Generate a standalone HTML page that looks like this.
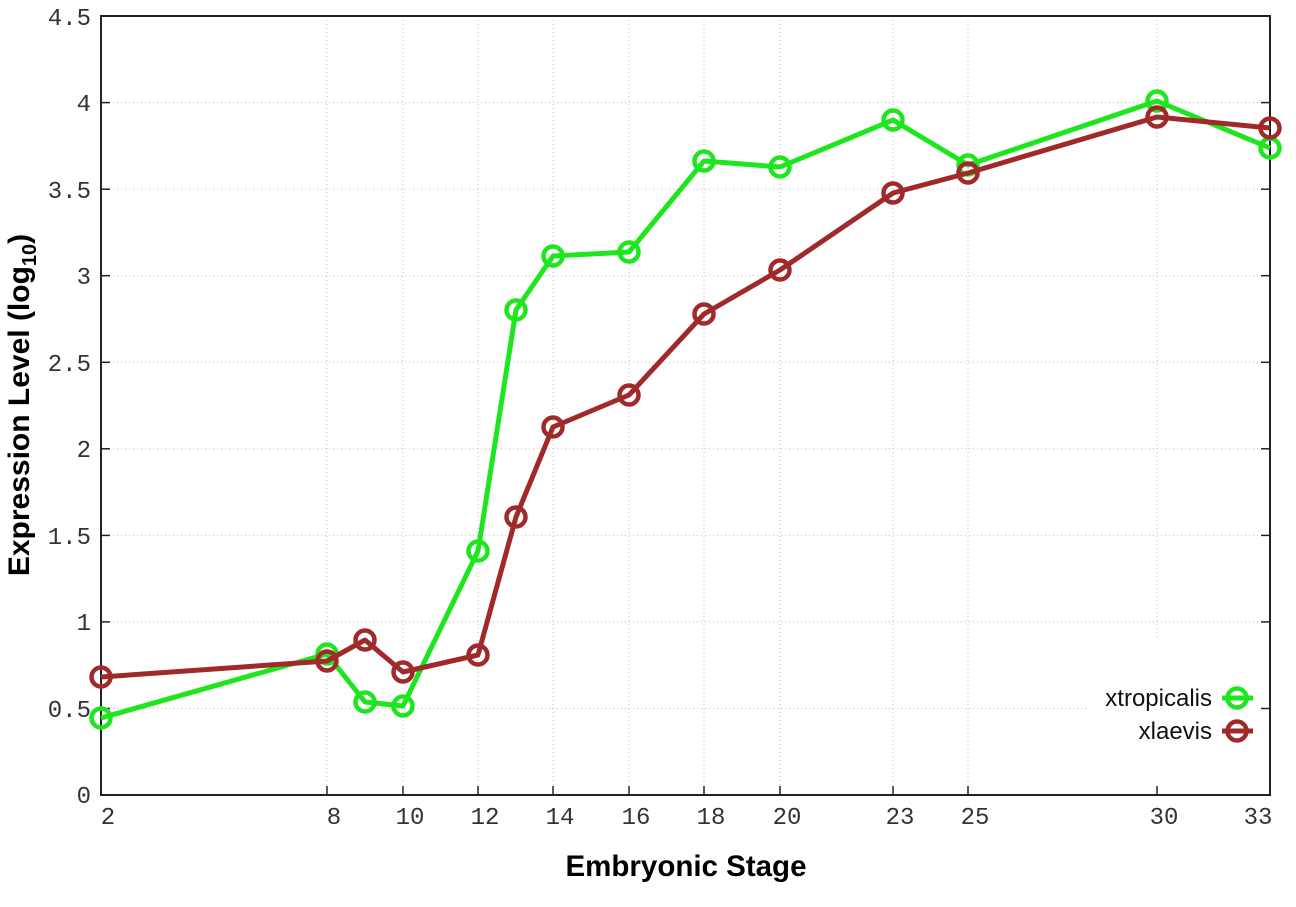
<!DOCTYPE html>
<html><head><meta charset="utf-8"><style>body{margin:0;background:#fff}svg{display:block}</style></head>
<body>
<svg width="1296" height="907" xmlns="http://www.w3.org/2000/svg">
<g stroke="#bbb" stroke-width="1" stroke-dasharray="1,3">
<line x1="101" y1="102.6" x2="1270" y2="102.6"/><line x1="101" y1="189.2" x2="1270" y2="189.2"/>
<line x1="101" y1="275.7" x2="1270" y2="275.7"/><line x1="101" y1="362.3" x2="1270" y2="362.3"/>
<line x1="101" y1="448.8" x2="1270" y2="448.8"/><line x1="101" y1="535.4" x2="1270" y2="535.4"/>
<line x1="101" y1="621.9" x2="1270" y2="621.9"/><line x1="101" y1="708.5" x2="1088" y2="708.5"/>
<line x1="327" y1="16" x2="327" y2="795"/><line x1="403" y1="16" x2="403" y2="795"/>
<line x1="478" y1="16" x2="478" y2="795"/><line x1="553" y1="16" x2="553" y2="795"/>
<line x1="629" y1="16" x2="629" y2="795"/><line x1="704" y1="16" x2="704" y2="795"/>
<line x1="780" y1="16" x2="780" y2="795"/><line x1="893" y1="16" x2="893" y2="795"/>
<line x1="968" y1="16" x2="968" y2="795"/><line x1="1157" y1="16" x2="1157" y2="640"/>
</g>
<g stroke="#222" stroke-width="1.5">
<line x1="101" y1="102.6" x2="110" y2="102.6"/><line x1="101" y1="189.2" x2="110" y2="189.2"/>
<line x1="101" y1="275.7" x2="110" y2="275.7"/><line x1="101" y1="362.3" x2="110" y2="362.3"/>
<line x1="101" y1="448.8" x2="110" y2="448.8"/><line x1="101" y1="535.4" x2="110" y2="535.4"/>
<line x1="101" y1="621.9" x2="110" y2="621.9"/><line x1="101" y1="708.5" x2="110" y2="708.5"/>
<line x1="1261" y1="102.6" x2="1270" y2="102.6"/><line x1="1261" y1="189.2" x2="1270" y2="189.2"/>
<line x1="1261" y1="275.7" x2="1270" y2="275.7"/><line x1="1261" y1="362.3" x2="1270" y2="362.3"/>
<line x1="1261" y1="448.8" x2="1270" y2="448.8"/><line x1="1261" y1="535.4" x2="1270" y2="535.4"/>
<line x1="1261" y1="621.9" x2="1270" y2="621.9"/><line x1="1261" y1="708.5" x2="1270" y2="708.5"/>
<line x1="327" y1="786" x2="327" y2="795"/><line x1="403" y1="786" x2="403" y2="795"/>
<line x1="478" y1="786" x2="478" y2="795"/><line x1="553" y1="786" x2="553" y2="795"/>
<line x1="629" y1="786" x2="629" y2="795"/><line x1="704" y1="786" x2="704" y2="795"/>
<line x1="780" y1="786" x2="780" y2="795"/><line x1="893" y1="786" x2="893" y2="795"/>
<line x1="968" y1="786" x2="968" y2="795"/><line x1="1157" y1="786" x2="1157" y2="795"/>
</g>
<rect x="101" y="16" width="1169" height="779" fill="none" stroke="#222" stroke-width="2"/>
<g font-family="Liberation Mono, monospace" font-size="24" fill="#333" text-anchor="end">
<text x="91" y="25">4.5</text><text x="91" y="111">4</text><text x="91" y="198">3.5</text>
<text x="91" y="284">3</text><text x="91" y="371">2.5</text><text x="91" y="457">2</text>
<text x="91" y="544">1.5</text><text x="91" y="630">1</text><text x="91" y="717">0.5</text>
<text x="91" y="803">0</text>
</g>
<g font-family="Liberation Mono, monospace" font-size="24" fill="#333" text-anchor="middle">
<text x="108" y="824">2</text><text x="334" y="824">8</text><text x="410" y="824">10</text>
<text x="485" y="824">12</text><text x="560" y="824">14</text><text x="636" y="824">16</text>
<text x="711" y="824">18</text><text x="787" y="824">20</text><text x="900" y="824">23</text>
<text x="975" y="824">25</text><text x="1164" y="824">30</text><text x="1258" y="824">33</text>
</g>
<text x="686" y="876" font-family="Liberation Sans, sans-serif" font-weight="bold" font-size="29.5" text-anchor="middle">Embryonic Stage</text>
<text transform="translate(29,405) rotate(-90)" font-family="Liberation Sans, sans-serif" font-weight="bold" font-size="30" text-anchor="middle">Expression Level (log<tspan font-size="20" dy="7">10</tspan><tspan dy="-7">)</tspan></text>
<g fill="none" stroke-width="5" stroke-linejoin="round">
<polyline stroke="#1ee61e" points="101,718 327,654 365,702 403,706 478,551 516,310 553,256 629,252 704,161 780,167 893,120 968,165 1157,101 1270,148"/>
<g stroke="#1ee61e" stroke-width="4.5">
<circle cx="101" cy="718" r="9.5"/><circle cx="327" cy="654" r="9.5"/><circle cx="365" cy="702" r="9.5"/><circle cx="403" cy="706" r="9.5"/><circle cx="478" cy="551" r="9.5"/><circle cx="516" cy="310" r="9.5"/><circle cx="553" cy="256" r="9.5"/><circle cx="629" cy="252" r="9.5"/><circle cx="704" cy="161" r="9.5"/><circle cx="780" cy="167" r="9.5"/><circle cx="893" cy="120" r="9.5"/><circle cx="968" cy="165" r="9.5"/><circle cx="1157" cy="101" r="9.5"/><circle cx="1270" cy="148" r="9.5"/>
</g>
<polyline stroke="#a02a2a" points="101,677 327,661 365,640 403,672 478,655 516,517 553,427 629,395 704,314 780,270 893,193 968,173 1157,117 1270,128"/>
<g stroke="#a02a2a" stroke-width="4.5">
<circle cx="101" cy="677" r="9.5"/><circle cx="327" cy="661" r="9.5"/><circle cx="365" cy="640" r="9.5"/><circle cx="403" cy="672" r="9.5"/><circle cx="478" cy="655" r="9.5"/><circle cx="516" cy="517" r="9.5"/><circle cx="553" cy="427" r="9.5"/><circle cx="629" cy="395" r="9.5"/><circle cx="704" cy="314" r="9.5"/><circle cx="780" cy="270" r="9.5"/><circle cx="893" cy="193" r="9.5"/><circle cx="968" cy="173" r="9.5"/><circle cx="1157" cy="117" r="9.5"/><circle cx="1270" cy="128" r="9.5"/>
</g>
<line x1="1222" y1="698" x2="1253" y2="698" stroke="#1ee61e"/><circle cx="1237" cy="698" r="9.5" stroke="#1ee61e" stroke-width="4.5"/>
<line x1="1222" y1="731" x2="1253" y2="731" stroke="#a02a2a"/><circle cx="1237" cy="731" r="9.5" stroke="#a02a2a" stroke-width="4.5"/>
</g>
<g font-family="Liberation Sans, sans-serif" font-size="24" text-anchor="end" fill="#111">
<text x="1212" y="706">xtropicalis</text><text x="1212" y="739">xlaevis</text>
</g>
</svg>
</body></html>
